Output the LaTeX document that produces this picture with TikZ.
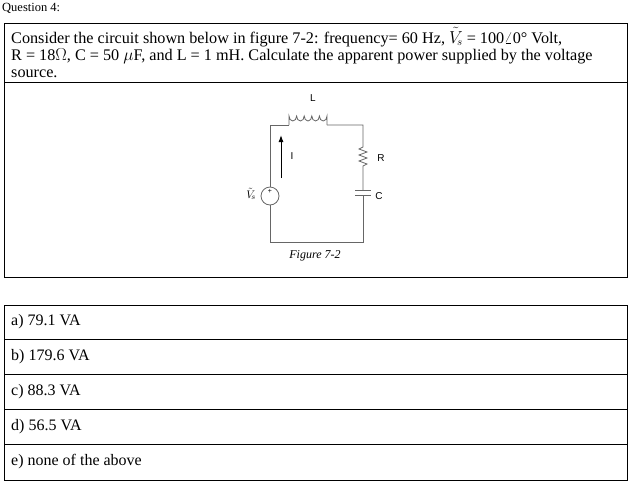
\documentclass[tikz,border=0pt]{standalone}
\usepackage{fontspec}
\setmainfont{Liberation Serif}
\newfontfamily\cktfont{Liberation Sans}
\usetikzlibrary{arrows.meta}
\tikzset{
  txt/.style={anchor=west, inner sep=0pt, font=\fontsize{16.2}{18}\selectfont},
  opt/.style={anchor=west, inner sep=0pt, font=\fontsize{16}{18}\selectfont},
  wire/.style={draw=gray!80!black, line width=0.8pt},
  lbl/.style={inner sep=0pt, font=\cktfont\fontsize{10}{12}\selectfont}
}
\begin{document}
\begin{tikzpicture}[x=1pt, y=-1pt]
	\useasboundingbox (0,0) rectangle (631,483);
	\node[txt, font=\fontsize{12.5}{15}\selectfont] (q) at (2,8) {Question 4:};
	% question box
	\draw[thick] (4,23) rectangle (627,277);
	\draw[thick] (4,82) -- (627,82);
	\node[txt] (l1) at (11,37) {Consider the circuit shown below in figure 7-2: frequency= 60 Hz, $\tilde{V}_{\!s}$ = 100$\angle$0\textdegree{} Volt,};
	\node[txt] (l2) at (11,56) {R = 18$\Omega$, C = 50 $\mu$F, and L = 1 mH. Calculate the apparent power supplied by the voltage};
	\node[txt] (l3) at (11,74) {source.};
	% circuit
	\draw[wire] (270,187) -- (270,125) -- (289,125);
	\draw[wire] (289,125) -- (289,116)
		\foreach \i in {0,...,4} { arc(180:0:3.8 and 5) } -- (327,125);
	\draw[wire] (327,125) -- (363,125) -- (363,147)
		-- (359,149) -- (367,152) -- (359,155) -- (367,158) -- (359,161) -- (367,164) -- (363,166)
		-- (363,190);
	\draw[wire] (355,190) -- (371,190);
	\draw[wire] (355,195) -- (371,195);
	\draw[wire] (363,195) -- (363,242) -- (270,242) -- (270,205);
	\draw[wire] (270,196) circle (9);
	\node[lbl, font=\cktfont\fontsize{7}{8}\selectfont] (plus) at (270,191) {+};
	\draw[line width=1pt, -{Latex[length=7pt,width=5pt]}] (281,178) -- (281,135);
	\node[lbl] (I) at (292,156) {I};
	\node[lbl] (L) at (313,98) {L};
	\node[lbl] (R) at (381,158) {R};
	\node[lbl] (C) at (379,196) {C};
	\node[lbl, font=\fontsize{11}{12}\selectfont] (Vs) at (251,194) {$\tilde{V}_{\!s}$};
	\node[inner sep=0pt, font=\itshape\fontsize{12}{14}\selectfont] (fig) at (315,256) {Figure 7-2};
	% answer box
	\draw[thick] (4,305) rectangle (627,480);
	\foreach \y in {339,374,409,444} \draw[thick] (4,\y) -- (627,\y);
	\node[opt] (a) at (11,322) {a) 79.1 VA};
	\node[opt] (b) at (11,357) {b) 179.6 VA};
	\node[opt] (c) at (11,392) {c) 88.3 VA};
	\node[opt] (d) at (11,427) {d) 56.5 VA};
	\node[opt] (e) at (11,462) {e) none of the above};
\end{tikzpicture}
\end{document}
